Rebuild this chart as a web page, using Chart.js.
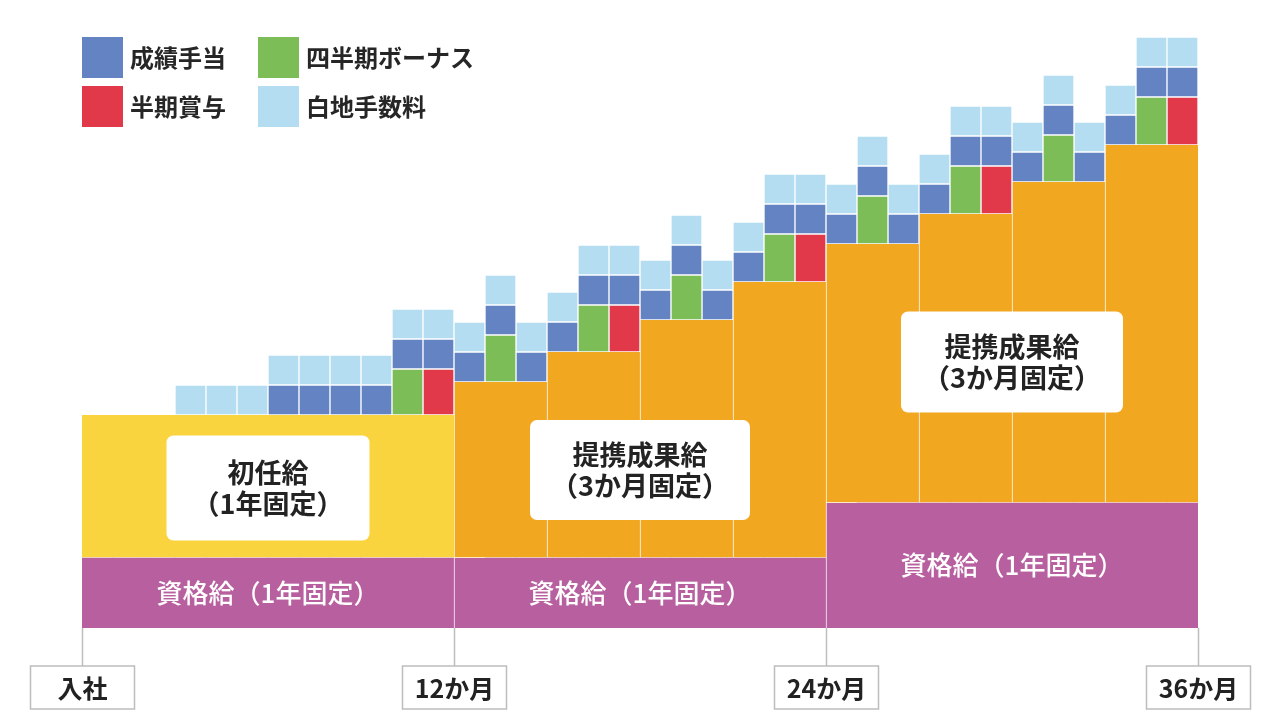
<!DOCTYPE html>
<html lang="ja">
<head>
<meta charset="utf-8">
<script src="https://cdn.jsdelivr.net/npm/chart.js@4.4.1/dist/chart.umd.min.js"></script>
<style>
html,body{margin:0;padding:0;background:#fff;}
canvas{display:block;}
</style>
</head>
<body>
<canvas id="c" width="1280" height="720"></canvas>
<script>
// ---- data ----
const months = ['1','2','3','4','5','6','7','8','9','10','11','12',
  '13','14','15','16','17','18','19','20','21','22','23','24',
  '25','26','27','28','29','30','31','32','33','34','35','36'];

// 資格給（1年固定）
const shikakuKyu = [70,70,70,70,70,70,70,70,70,70,70,70,
  70,70,70,70,70,70,70,70,70,70,70,70,
  125,125,125,125,125,125,125,125,125,125,125,125];
// 初任給（1年固定）
const shoninKyu = [143,143,143,143,143,143,143,143,143,143,143,143,
  null,null,null,null,null,null,null,null,null,null,null,null,
  null,null,null,null,null,null,null,null,null,null,null,null];
// 提携成果給（3か月固定）
const teikeiSeikaKyu = [null,null,null,null,null,null,null,null,null,null,null,null,
  176,176,176,206,206,206,238,238,238,276,276,276,
  259,259,259,289,289,289,321,321,321,358,358,358];
// 四半期ボーナス
const shihankiBonus = [null,null,null,null,null,null,null,null,null,null,46,null,
  null,47,null,null,47,null,null,45,null,null,48,null,
  null,48,null,null,48,null,null,47,null,null,48,null];
// 半期賞与
const hankiShoyo = [null,null,null,null,null,null,null,null,null,null,null,46,
  null,null,null,null,null,47,null,null,null,null,null,48,
  null,null,null,null,null,48,null,null,null,null,null,48];
// 成績手当
const seisekiTeate = [null,null,null,null,null,null,30,30,30,30,30,30,
  30,30,30,30,30,30,30,30,30,30,30,30,
  30,30,30,30,30,30,30,30,30,30,30,30];
// 白地手数料
const shirochiTesuryo = [null,null,null,30,30,30,30,30,30,30,30,30,
  30,30,30,30,30,30,30,30,30,30,30,30,
  30,30,30,30,30,30,30,30,30,30,30,30];

const tickMonths = [0, 12, 24, 36];
const tickLabels = ['入社', '12か月', '24か月', '36か月'];
const baseLabel = '資格給（1年固定）';
const basePeriods = [[0, 12], [12, 24], [24, 36]];
const boxTexts = [['初任給', '（1年固定）'], ['提携成果給', '（3か月固定）'], ['提携成果給', '（3か月固定）']];

// ---- styles / layout (not data) ----
const COL = {
  purple: '#b8609f', yellow: '#fad43f', orange: '#f1a71f',
  green: '#7dbd57', red: '#e1384a', blue: '#6483c2', light: '#b4ddf1'
};
const FONT = '"Noto Sans CJK JP", "Noto Sans", sans-serif';
const boxPlacement = [
  {edge: 6, value: 140, w: 203, h: 105},
  {edge: 18, value: 158, w: 220, h: 100},
  {edge: 30, value: 266, w: 222, h: 101}
];
const legendLayout = [
  {label: '成績手当', col: 0, row: 0},
  {label: '四半期ボーナス', col: 1, row: 0},
  {label: '半期賞与', col: 0, row: 1},
  {label: '白地手数料', col: 1, row: 1}
];

function roundRect(ctx, x, y, w, h, r) {
  ctx.beginPath();
  ctx.moveTo(x + r, y);
  ctx.lineTo(x + w - r, y);
  ctx.arcTo(x + w, y, x + w, y + r, r);
  ctx.lineTo(x + w, y + h - r);
  ctx.arcTo(x + w, y + h, x + w - r, y + h, r);
  ctx.lineTo(x + r, y + h);
  ctx.arcTo(x, y + h, x, y + h - r, r);
  ctx.lineTo(x, y + r);
  ctx.arcTo(x, y, x + r, y, r);
  ctx.closePath();
}

const annotations = {
  id: 'annotations',
  afterDatasetsDraw(chart) {
    const {ctx, chartArea, scales} = chart;
    const xs = scales.x, ys = scales.y;
    const edge = k => xs.getPixelForValue(k - 0.5);
    ctx.save();
    ctx.textAlign = 'center';
    ctx.textBaseline = 'middle';

    // 資格給 labels
    ctx.fillStyle = '#ffffff';
    ctx.font = '500 26px ' + FONT;
    basePeriods.forEach(([a, b]) => {
      const cx = (edge(a) + edge(b)) / 2;
      const cy = (ys.getPixelForValue(0) + ys.getPixelForValue(shikakuKyu[a])) / 2;
      ctx.fillText(baseLabel, cx, cy);
    });

    // white label boxes
    boxPlacement.forEach((p, i) => {
      const cx = edge(p.edge);
      const cy = ys.getPixelForValue(p.value);
      ctx.fillStyle = '#ffffff';
      roundRect(ctx, cx - p.w / 2, cy - p.h / 2, p.w, p.h, 7);
      ctx.fill();
      ctx.fillStyle = '#232323';
      ctx.font = 'bold 27px ' + FONT;
      ctx.fillText(boxTexts[i][0], cx, cy - 15);
      ctx.fillText(boxTexts[i][1], cx, cy + 16);
    });

    // bottom timeline ticks
    tickMonths.forEach((m, i) => {
      const px = Math.round(edge(m)) + 0.5;
      const top = chartArea.bottom;
      ctx.strokeStyle = '#bdbdbd';
      ctx.lineWidth = 1.5;
      ctx.beginPath();
      ctx.moveTo(px, top);
      ctx.lineTo(px, top + 38);
      ctx.stroke();
      ctx.fillStyle = '#ffffff';
      ctx.fillRect(px - 52, top + 38, 104, 43);
      ctx.strokeRect(px - 52, top + 38, 104, 43);
      ctx.fillStyle = '#222222';
      ctx.font = 'bold 25px ' + FONT;
      ctx.fillText(tickLabels[i], px, top + 38 + 22);
    });

    // legend (2 x 2)
    ctx.textAlign = 'left';
    legendLayout.forEach(item => {
      const ds = chart.data.datasets.find(d => d.label === item.label);
      const x = 82 + item.col * 176;
      const y = 37 + item.row * 49;
      ctx.fillStyle = ds.backgroundColor;
      ctx.fillRect(x, y, 41, 41);
      ctx.fillStyle = '#262626';
      ctx.font = 'bold 24px ' + FONT;
      ctx.fillText(item.label, x + 48, y + 21);
    });
    ctx.restore();
  }
};

const cellStyle = {borderColor: '#ffffff', borderWidth: 1, borderSkipped: false};

Chart.defaults.font.family = FONT;

new Chart(document.getElementById('c'), {
  type: 'bar',
  data: {
    labels: months,
    datasets: [
      {label: '資格給', data: shikakuKyu, backgroundColor: COL.purple,
        borderColor: 'rgba(255,255,255,0.85)', borderSkipped: false,
        borderWidth: c => ({top: 0, bottom: 0, right: 0, left: (c.dataIndex === 12 || c.dataIndex === 24) ? 1 : 0})},
      {label: '初任給', data: shoninKyu, backgroundColor: COL.yellow,
        borderColor: 'rgba(255,255,255,0.7)', borderSkipped: false,
        borderWidth: {top: 0, left: 0, right: 0, bottom: 1}},
      {label: '提携成果給', data: teikeiSeikaKyu, backgroundColor: COL.orange,
        borderColor: 'rgba(255,255,255,0.85)', borderSkipped: false,
        borderWidth: c => ({top: 0, right: 0, bottom: 1, left: c.dataIndex % 3 === 0 ? 1 : 0})},
      Object.assign({label: '四半期ボーナス', data: shihankiBonus, backgroundColor: COL.green}, cellStyle),
      Object.assign({label: '半期賞与', data: hankiShoyo, backgroundColor: COL.red}, cellStyle),
      Object.assign({label: '成績手当', data: seisekiTeate, backgroundColor: COL.blue}, cellStyle),
      Object.assign({label: '白地手数料', data: shirochiTesuryo, backgroundColor: COL.light}, cellStyle)
    ]
  },
  options: {
    responsive: false,
    animation: false,
    devicePixelRatio: 1,
    layout: {padding: {left: 82, right: 82, top: 28, bottom: 92}},
    datasets: {bar: {barPercentage: 1, categoryPercentage: 1}},
    plugins: {legend: {display: false}, tooltip: {enabled: false}},
    scales: {
      x: {stacked: true, display: false},
      y: {stacked: true, display: false, min: 0, max: 600}
    }
  },
  plugins: [annotations]
});
</script>
</body>
</html>
